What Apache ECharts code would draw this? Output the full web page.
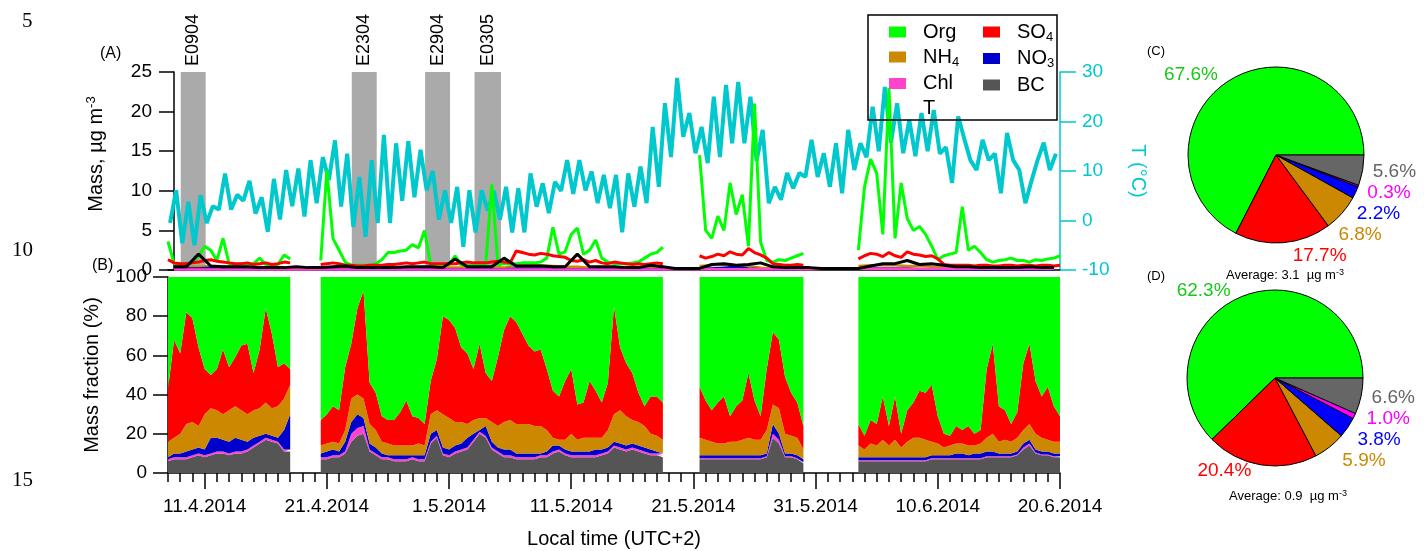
<!DOCTYPE html>
<html>
<head>
<meta charset="utf-8">
<script src="https://cdn.jsdelivr.net/npm/echarts@6/dist/echarts.min.js"></script>
<style>
  html, body { margin: 0; padding: 0; background: #fff; }
  #chart { width: 1424px; height: 551px; }
</style>
</head>
<body>
<div id="chart"></div>
<script>
const _ = null;

// x axis: time range and labelled dates
const startDate = '2014-04-08T00:00Z';
const endDate = '2014-06-20T00:00Z';
const tickDates = ['2014-04-11', '2014-04-21', '2014-05-01', '2014-05-11', '2014-05-21', '2014-05-31', '2014-06-10', '2014-06-20'];
const tickLabels = ['11.4.2014', '21.4.2014', '1.5.2014', '11.5.2014', '21.5.2014', '31.5.2014', '10.6.2014', '20.6.2014'];

// event periods (grey bands)
const eventNames = ['E0904', 'E2304', 'E2904', 'E0305'];
const eventStart = ['2014-04-09T01:00Z', '2014-04-23T01:00Z', '2014-04-29T01:00Z', '2014-05-03T02:00Z'];
const eventEnd = ['2014-04-11T02:00Z', '2014-04-25T02:00Z', '2014-05-01T02:00Z', '2014-05-05T06:00Z'];

// (A) 12-hourly mass concentrations, µg m-3, from 8.4.2014 00:00
const orgMass = [
  3.6, 0.8, 0.8, 0.8, 1.0, 1.7, 3.0, 2.5, 1.2, 4.0, 0.8, 0.7, 0.8, 0.7, 0.8, 1.5, 0.7, 0.7, 0.7, 1.9, 1.4,
  _, _, _, _,
  1.2, 12.6, 4.0, 2.5, 1.0, 0.6, 0.6, 0.6, 0.6, 0.8,
  1.3, 2.2, 2.2, 2.4, 2.5, 3.2, 2.8, 5.0, 0.6, 0.6,
  0.6, 0.7, 1.8, 0.6, 0.6, 0.6, 0.6, 0.6, 10.8, 0.7,
  0.8, 0.8, 0.8, 0.9, 0.9, 0.9, 1.0, 1.5, 5.4, 2.0,
  2.3, 4.5, 5.3, 2.0, 2.5, 3.8, 1.5, 1.0, 0.8, 0.8,
  0.8, 0.9, 1.0, 1.5, 2.0, 2.2, 2.9,
  _, _, _, _, _,
  14.5, 5.0, 4.0, 6.8, 5.0, 11.0, 7.0, 9.5, 3.0, 21.0, 3.5, 1.2, 1.0, 1.3, 1.2, 1.5, 1.8, 2.1,
  _, _, _, _, _, _, _, _,
  2.5, 10.5, 14.0, 12.2, 4.5, 23.0, 4.0, 11.0, 6.5, 5.0,
  5.5, 4.5, 3.0, 1.3, 1.8, 2.0, 2.2, 8.0, 2.5, 3.0,
  2.2, 1.3, 1.0, 1.2, 1.3, 1.5, 1.2, 1.2, 1.0, 1.3,
  1.2, 1.4, 1.5, 1.8
];
const so4Mass = [
  1.3, 0.9, 0.8, 0.8, 0.9, 1.0, 1.2, 1.3, 1.1, 1.0, 0.9, 0.8, 0.8, 0.9, 0.7, 0.8, 0.9, 0.7, 0.8, 1.0, 0.9,
  _, _, _, _,
  0.7, 0.8, 0.9, 0.8, 0.6, 0.6, 0.5, 0.5, 0.6, 0.6,
  0.6, 0.7, 0.7, 0.8, 0.9, 0.8, 0.9, 1.0, 0.8, 0.8,
  0.8, 0.8, 0.8, 0.9, 1.0, 0.9, 0.9, 0.9, 1.0, 1.1,
  1.0, 0.9, 2.4, 2.2, 2.0, 1.9, 2.1, 2.0, 1.8, 1.7,
  1.6, 1.2, 1.1, 1.3, 1.0, 1.2, 0.9, 0.8, 1.0, 0.9,
  0.8, 0.7, 0.8, 0.7, 0.8, 0.9, 0.8,
  _, _, _, _, _,
  1.8, 1.5, 1.7, 2.0, 1.8, 2.3, 2.0, 1.9, 2.7, 2.2, 1.9, 1.5, 0.8, 0.7, 0.6, 0.6, 0.7, 0.6,
  _, _, _, _, _, _, _, _,
  1.4, 1.8, 2.1, 2.0, 1.7, 2.2, 1.8, 1.6, 2.3, 2.0,
  1.9, 1.7, 1.8, 1.4, 0.7, 0.6, 0.6, 0.6, 0.6, 0.5,
  0.6, 0.6, 0.5, 0.5, 0.6, 0.6, 0.5, 0.6, 0.6, 0.5,
  0.6, 0.6, 0.5, 0.6
];

// (A) daily (noon) mass concentrations, µg m-3
const nh4Mass = [
  0.5, 0.4, 0.4, 0.5, 0.4, 0.4, 0.3, 0.3, 0.3, 0.3,
  _, _, 0.3, 0.3, 0.3, 0.2, 0.2, 0.2, 0.3, 0.3,
  0.3, 0.3, 0.3, 0.3, 0.3, 0.3, 0.3, 0.3, 0.6, 0.6,
  0.6, 0.5, 0.4, 0.4, 0.3, 0.3, 0.3, 0.3, 0.3, 0.3,
  0.3, _, _, 0.5, 0.6, 0.7, 0.6, 0.5, 0.3, 0.2,
  0.2, 0.2, _, _, _, _, 0.5, 0.6, 0.6, 0.6,
  0.5, 0.5, 0.4, 0.3, 0.2, 0.2, 0.2, 0.2, 0.2, 0.2,
  0.2, 0.2, 0.2
];
const no3Mass = [
  0.2, 0.2, 0.2, 0.3, 0.2, 0.3, 0.2, 0.2, 0.3, 0.2,
  _, _, 0.1, 0.1, 0.1, 0.1, 0.1, 0.1, 0.1, 0.1,
  0.1, 0.1, 0.1, 0.1, 0.1, 0.1, 0.1, 0.1, 0.2, 0.2,
  0.2, 0.1, 0.1, 0.1, 0.1, 0.1, 0.1, 0.1, 0.1, 0.1,
  0.1, _, _, 0.2, 0.2, 0.3, 0.4, 0.2, 0.1, 0.1,
  0.1, 0.1, _, _, _, _, 0.2, 0.2, 0.2, 0.2,
  0.2, 0.1, 0.1, 0.1, 0.1, 0.1, 0.1, 0.1, 0.1, 0.1,
  0.1, 0.1, 0.1
];
const chlMass = [
  0.05, 0.05, 0.05, 0.05, 0.05, 0.05, 0.05, 0.05, 0.05, 0.05,
  0.05, 0.05, 0.05, 0.05, 0.05, 0.05, 0.05, 0.05, 0.05, 0.05,
  0.05, 0.05, 0.05, 0.05, 0.05, 0.05, 0.05, 0.05, 0.05, 0.05,
  0.05, 0.05, 0.05, 0.05, 0.05, 0.05, 0.05, 0.05, 0.05, 0.05,
  0.05, 0.1, 0.1, 0.1, 0.1, 0.1, 0.1, 0.1, 0.1, 0.1,
  0.1, 0.1, 0.1, 0.15, 0.15, 0.15, 0.15, 0.15, 0.15, 0.15,
  0.15, 0.15, 0.15, 0.15, 0.15, 0.15, 0.15, 0.15, 0.15, 0.15,
  0.15, 0.15, 0.15
];
const bcMass = [
  0.4, 0.4, 2.0, 0.5, 0.4, 0.4, 0.4, 0.3, 0.3, 0.3,
  0.4, 0.3, 0.3, 0.4, 0.5, 0.3, 0.3, 0.3, 0.3, 0.4,
  0.4, 0.4, 0.3, 1.4, 0.4, 0.4, 0.4, 1.5, 0.5, 0.5,
  0.5, 0.4, 0.4, 2.0, 0.4, 0.4, 0.4, 0.3, 0.3, 0.6,
  0.4, 0.2, 0.2, 0.2, 0.7, 0.8, 0.6, 0.7, 0.9, 0.4,
  0.3, 0.3, 0.3, 0.2, 0.2, 0.2, 0.2, 0.5, 0.8, 0.8,
  1.2, 0.7, 0.8, 0.6, 0.4, 0.4, 0.3, 0.3, 0.3, 0.3,
  0.4, 0.3, 0.3
];

// (A) temperature, °C: early-morning and afternoon reading of each day
const temperature = [
  -0.5, 6.1, -4.6, 3.8, -5.0, 5.1, -0.5, 2.9, 2.2, 9.5, 2.2, 5.2, 4.0, 8.0, 1.4, 4.7, -2.3, 8.4, 0.2, 10.2,
  2.9, 10.5, 0.8, 12.2, 3.5, 12.8, 8.2, 16.2, 2.8, 13.5, -1.3, 8.8, -3.3, 12.2, -0.5, 17.3, -0.5, 15.6, 4.0, 16.0,
  4.7, 14.3, 6.1, 10.0, 0.2, 6.1, -0.5, 6.8, -5.3, 6.1, -2.4, 6.1, 2.0, 6.0, 0.2, 6.8, -2.4, 6.5, -2.4, 9.5,
  2.8, 7.5, 1.5, 7.8, 6.0, 12.2, 5.4, 12.2, 6.1, 9.9, 3.5, 9.2, 2.5, 9.2, -2.4, 9.5, 2.8, 10.9, 3.5, 18.9,
  6.8, 23.7, 12.8, 28.8, 16.9, 21.7, 13.6, 18.9, 11.6, 25.0, 12.8, 27.4, 15.6, 28.0, 15.6, 25.0, 12.0, 18.3, 3.5, 6.8,
  4.2, 9.6, 6.5, 9.6, 8.8, 16.3, 8.8, 13.6, 6.8, 15.6, 5.5, 18.3, 10.2, 15.6, 12.8, 23.0, 14.0, 27.0, 15.7, 23.7,
  13.6, 20.3, 13.0, 21.7, 14.0, 22.3, 13.5, 14.8, 7.6, 21.0, 16.5, 12.2, 10.2, 16.3, 12.2, 13.5, 5.5, 17.7, 12.2, 10.2,
  3.5, 8.0, 12.2, 15.7, 10.2, 13.5
];

// (B) 12-hourly mass fractions, %
const fracBC = [
  6, 7, 7, 7, 8, 9, 8, 9, 10, 10, 9, 10, 10, 11, 13, 15, 17, 16, 15, 11, 11,
  _, _, _, _,
  7, 7, 8, 8, 10, 16, 19, 20, 11, 9,
  7, 7, 6, 6, 6, 7, 6, 6, 15, 18,
  9, 8, 10, 11, 12, 16, 20, 18, 12, 10,
  8, 8, 7, 7, 7, 7, 8, 8, 10, 11,
  9, 8, 8, 8, 8, 8, 9, 10, 13, 12,
  11, 12, 11, 10, 9, 9, 8,
  _, _, _, _, _,
  7, 7, 7, 7, 7, 7, 7, 7, 7, 7, 7, 8, 18, 15, 8, 8, 7, 5,
  _, _, _, _, _, _, _, _,
  6, 6, 6, 6, 6, 6, 6, 6, 6, 6, 6, 6,
  7, 7, 7, 7, 7, 7, 7, 7, 7,
  8, 8, 8, 8, 8, 9, 12, 14, 10, 9, 9, 8, 8
];
const fracChl = [
  1, 1, 1, 1, 1, 1, 1, 1, 1, 1, 1, 1, 1, 1, 1, 1, 1, 1, 1, 1, 1,
  _, _, _, _,
  1, 1, 1, 1, 1, 4, 4, 4, 1, 1,
  1, 1, 1, 1, 1, 1, 1, 1, 1, 1,
  1, 1, 1, 1, 1, 1, 1, 1, 1, 1,
  1, 1, 1, 1, 1, 1, 1, 1, 1, 1,
  1, 1, 1, 1, 1, 1, 1, 1, 1, 1,
  1, 1, 1, 1, 1, 1, 1,
  _, _, _, _, _,
  .5, .5, .5, .5, .5, .5, .5, .5, .5, .5, .5, .5, 2, 2, .5, .5, .5, .5,
  _, _, _, _, _, _, _, _,
  .5, .5, .5, .5, .5, .5, .5, .5, .5, .5,
  .5, .5, .5, .5, .5, .5, .5, .5, .5, .5,
  .5, .5, .5, .5, .5, .5, .5, 1, 1, .5,
  .5, .5, .5, .5
];
const fracNO3 = [
  1, 2, 2, 3, 3, 3, 3, 8, 7, 6, 6, 7, 6, 4, 4, 3, 2, 2, 2, 10, 18,
  _, _, _, _,
  2, 3, 3, 2, 5, 6, 7, 4, 3, 3,
  2, 1, 2, 2, 2, 1, 2, 2, 4, 3,
  3, 3, 3, 3, 5, 3, 1, 5, 3, 2,
  3, 3, 2, 2, 2, 2, 1, 2, 3, 2,
  2, 2, 2, 2, 2, 3, 2, 2, 2, 2,
  2, 2, 2, 2, 2, 1, 1,
  _, _, _, _, _,
  1.5, 1.5, 1.5, 1.5, 1.5, 1.5, 1.5, 1.5, 1.5, 1.5, 1.5, 1.5, 5, 3, 1.5, 1.5, 1.5, 1.5,
  _, _, _, _, _, _, _, _,
  1.5, 1.5, 1.5, 1.5, 1.5, 1.5, 1.5, 1.5, 1.5, 1.5,
  1.5, 1.5, 1.5, 1.5, 1.5, 1.5, 2.5, 2.5, 1.5, 2.5,
  2.5, 2.5, 2.5, 1.5, 1.5, 1.5, 1.5, 2, 2, 1.5,
  1.5, 1.5, 1.5, 1.5
];
const fracNH4 = [
  8, 8, 10, 14, 14, 11, 18, 15, 14, 13, 16, 16, 15, 14, 14, 14, 16, 14, 16, 16, 15,
  _, _, _, _,
  4, 4, 4, 4, 6, 12, 10, 10, 10, 9,
  6, 6, 5, 5, 5, 5, 6, 5, 10, 10,
  17, 16, 12, 11, 7, 7, 6, 4, 10, 11,
  14, 15, 15, 15, 15, 14, 14, 11, 4, 3,
  5, 9, 6, 7, 7, 6, 6, 9, 14, 17,
  15, 12, 12, 11, 8, 8, 7,
  _, _, _, _, _,
  9, 8, 7, 6, 6, 7, 7, 8, 9, 8, 8, 12, 10, 13, 10, 9, 9, 5,
  _, _, _, _, _, _, _, _,
  6, 4, 7, 6, 9, 6, 9, 5, 8, 10,
  10, 9, 7, 6, 4, 5, 5, 5, 5, 4,
  5, 7, 9, 6, 7, 6, 7, 7, 8, 8,
  7, 6, 6, 6
];
const fracSO4 = [
  27, 50, 41, 57, 53, 40, 23, 17, 21, 33, 22, 25, 33, 36, 19, 30, 48, 38, 20, 18, 8,
  _, _, _, _,
  13, 15, 18, 17, 32, 28, 44, 55, 21, 19,
  13, 12, 13, 17, 23, 15, 13, 11, 17, 26,
  50, 50, 48, 38, 36, 26, 38, 23, 21, 35,
  47, 53, 52, 46, 40, 38, 39, 31, 24, 22,
  30, 33, 18, 18, 29, 24, 18, 24, 55, 32,
  27, 24, 15, 10, 19, 20, 19,
  _, _, _, _, _,
  26, 20, 16, 21, 24, 13, 18, 20, 33, 20, 12, 31, 37, 35, 29, 22, 18, 12,
  _, _, _, _, _, _, _, _,
  11, 7, 12, 11, 22, 10, 22, 7, 16, 18,
  24, 24, 29, 14, 7, 5, 9, 7, 10, 6,
  7, 35, 46, 18, 15, 9, 13, 34, 41, 27,
  21, 27, 18, 13
];
const fracOrg = [
  57, 32, 39, 18, 21, 36, 47, 50, 47, 37, 46, 41, 35, 34, 49, 37, 16, 29, 46, 44, 47,
  _, _, _, _,
  73, 70, 66, 68, 46, 34, 16, 7, 54, 59,
  71, 73, 73, 69, 63, 71, 72, 75, 53, 42,
  20, 22, 26, 36, 39, 47, 34, 49, 53, 41,
  27, 20, 23, 29, 35, 38, 37, 47, 58, 61,
  53, 47, 65, 64, 53, 58, 64, 54, 15, 36,
  44, 49, 59, 66, 61, 61, 64,
  _, _, _, _, _,
  56, 63, 68, 64, 61, 71, 66, 63, 49, 63, 71, 47, 28, 32, 51, 59, 64, 76,
  _, _, _, _, _, _, _, _,
  75, 81, 73, 75, 61, 76, 61, 80, 68, 64,
  58, 59, 55, 71, 80, 81, 76, 78, 76, 80,
  78, 47, 34, 66, 68, 75, 69, 44, 34, 53,
  61, 56, 66, 71
];

// (C) and (D) average composition, %
const pieNames = ['Org', 'SO4', 'NH4', 'NO3', 'Chl', 'BC'];
const pieC = [67.6, 17.7, 6.8, 2.2, 0.3, 5.6];
const pieD = [62.3, 20.4, 5.9, 3.8, 1.0, 6.6];
const averageC = 3.1;
const averageD = 0.9;

// ---------------------------------------------------------------
const colors = { Org: '#00ff00', SO4: '#ff0000', NH4: '#cc8800', NO3: '#0000cc', Chl: '#ff44cc', BC: '#555555' };
const pieColors = ['#00ff00', '#ff0000', '#cc8800', '#0000ff', '#ff00ff', '#666666'];
const pieLabelColors = ['#18c818', '#ff0000', '#cc8800', '#0000ff', '#ff00ff', '#666666'];
const tColor = '#00c8cc';
const FONT = 'Liberation Sans';
const HOUR = 3600 * 1000;
const t0 = Date.parse(startDate);
const t1 = Date.parse(endDate);

const halfDayTimes = orgMass.map((v, i) => t0 + i * 12 * HOUR);
const dailyTimes = bcMass.map((v, i) => t0 + (i * 24 + 12) * HOUR);
const tempTimes = temperature.map((v, i) => t0 + (4 + i * 12) * HOUR);
const tickTimes = tickDates.map(d => Date.parse(d + 'T00:00Z'));
const dayTicks = [];
for (let t = t0; t <= t1; t += 24 * HOUR) dayTicks.push(t);

function pairs(times, vals) {
  return vals.map((v, i) => [times[i], v]);
}

const subNames = { SO4: 'SO{sub|4}', NH4: 'NH{sub|4}', NO3: 'NO{sub|3}' };
const legendText = {
  fontSize: 20, color: '#000', fontFamily: FONT, padding: [0, 0, 0, 12],
  rich: { sub: { fontSize: 13, fontFamily: FONT, verticalAlign: 'bottom', padding: [10, 0, 0, 0] } }
};
function legendItem(name) {
  if (name === 'T') return { name: 'T', itemStyle: { color: 'rgba(0,0,0,0)', borderWidth: 0 } };
  return { name: name, itemStyle: { color: colors[name] } };
}

function massLine(name, times, vals, color, width) {
  return {
    name: name, type: 'line', xAxisIndex: 0, yAxisIndex: 0,
    data: pairs(times, vals), showSymbol: false, connectNulls: false,
    lineStyle: { color: color, width: width }, itemStyle: { color: color },
    silent: true
  };
}
function fracArea(name, vals) {
  return {
    name: name, type: 'line', xAxisIndex: 1, yAxisIndex: 2, stack: 'frac',
    data: pairs(halfDayTimes, vals), showSymbol: false, connectNulls: false,
    lineStyle: { width: 0 }, areaStyle: { color: colors[name], opacity: 1 },
    itemStyle: { color: colors[name] }, silent: true
  };
}
function pieSeries(center, vals) {
  return {
    type: 'pie', center: center, radius: 88, startAngle: 0, clockwise: false,
    silent: true,
    itemStyle: { borderColor: '#000', borderWidth: 1 },
    label: { show: true, position: 'outside', fontSize: 19, fontFamily: FONT, overflow: 'none',
      formatter: p => p.value.toFixed(1) + '%' },
    labelLine: { show: false, length: 6, length2: 4 },
    data: vals.map((v, i) => ({
      name: pieNames[i], value: v,
      itemStyle: { color: pieColors[i] },
      label: { color: pieLabelColors[i] }
    }))
  };
}

const tickStyle = { color: '#000', width: 1.5 };
const hiddenAxis = { axisLine: { show: false }, axisTick: { show: false }, axisLabel: { show: false }, splitLine: { show: false } };
const chart = echarts.init(document.getElementById('chart'));
chart.setOption({
  animation: false,
  textStyle: { fontFamily: FONT },
  grid: [
    { left: 168, top: 72, width: 892, height: 198 },
    { left: 168, top: 277, width: 892, height: 196 }
  ],
  xAxis: [
    // time axes that carry the series
    { gridIndex: 0, type: 'time', min: t0, max: t1, position: 'top',
      axisLine: { lineStyle: tickStyle }, axisTick: { show: false },
      axisLabel: { show: false }, splitLine: { show: false } },
    Object.assign({ gridIndex: 1, type: 'time', min: t0, max: t1, position: 'bottom' }, hiddenAxis),
    // date labels and long ticks
    { gridIndex: 1, type: 'value', min: t0, max: t1, position: 'bottom',
      axisLine: { lineStyle: tickStyle },
      axisTick: { customValues: tickTimes, length: 16, lineStyle: tickStyle },
      axisLabel: { customValues: tickTimes, fontSize: 19, color: '#000', margin: 24,
        formatter: v => tickLabels[tickTimes.indexOf(v)] || '' },
      splitLine: { show: false },
      name: 'Local time (UTC+2)', nameLocation: 'middle', nameGap: 56,
      nameTextStyle: { fontSize: 20, color: '#000' } },
    // daily short ticks
    { gridIndex: 1, type: 'value', min: t0, max: t1, position: 'bottom',
      axisLine: { show: false },
      axisTick: { customValues: dayTicks, length: 9, lineStyle: tickStyle },
      axisLabel: { show: false }, splitLine: { show: false } }
  ],
  yAxis: [
    { gridIndex: 0, type: 'value', min: 0, max: 25, interval: 5, offset: -6,
      axisLine: { show: true, lineStyle: tickStyle },
      axisTick: { show: true, length: 15, lineStyle: tickStyle },
      axisLabel: { fontSize: 19, color: '#000', margin: 22 },
      splitLine: { show: false },
      name: 'Mass, µg m{sup|-3}', nameLocation: 'middle', nameGap: 66, nameRotate: 90,
      nameTextStyle: { fontSize: 20, color: '#000', padding: [0, 0, 0, 34],
        rich: { sup: { fontSize: 13, fontFamily: FONT, verticalAlign: 'top', padding: [0, 0, 10, 0] } } } },
    { gridIndex: 0, type: 'value', position: 'right', min: -10, max: 30, interval: 10,
      axisLine: { show: true, lineStyle: { color: tColor, width: 1.5 } },
      axisTick: { show: true, length: 16, lineStyle: { color: tColor, width: 1.5 } },
      axisLabel: { fontSize: 19, color: tColor, margin: 22 },
      splitLine: { show: false },
      name: 'T (°C)', nameLocation: 'middle', nameGap: 68, nameRotate: -90,
      nameTextStyle: { fontSize: 20, color: tColor } },
    { gridIndex: 1, type: 'value', min: 0, max: 100, interval: 20,
      axisLine: { show: true, lineStyle: tickStyle },
      axisTick: { show: true, length: 15, lineStyle: tickStyle },
      axisLabel: { fontSize: 19, color: '#000', margin: 21 },
      splitLine: { show: false },
      name: 'Mass fraction (%)', nameLocation: 'middle', nameGap: 66, nameRotate: 90,
      nameTextStyle: { fontSize: 20, color: '#000' } }
  ],
  legend: [
    { left: 884, top: 17, orient: 'vertical', icon: 'rect', itemWidth: 17, itemHeight: 11, itemGap: 5,
      selectedMode: false, textStyle: legendText, formatter: n => subNames[n] || n,
      data: ['Org', 'NH4', 'Chl', 'T'].map(legendItem) },
    { left: 978, top: 17, orient: 'vertical', icon: 'rect', itemWidth: 17, itemHeight: 11, itemGap: 5,
      selectedMode: false, textStyle: legendText, formatter: n => subNames[n] || n,
      data: ['SO4', 'NO3', 'BC'].map(legendItem) }
  ],
  series: [
    { name: 'T', type: 'line', xAxisIndex: 0, yAxisIndex: 1,
      data: pairs(tempTimes, temperature), showSymbol: false,
      lineStyle: { color: tColor, width: 4 }, itemStyle: { color: tColor }, silent: true,
      markArea: {
        silent: true,
        itemStyle: { color: '#aaaaaa' },
        label: { show: true, position: 'top', rotate: 90, align: 'left', verticalAlign: 'middle',
          distance: 6, fontSize: 18, color: '#000', fontFamily: FONT },
        data: eventNames.map((n, i) => [
          { name: n, xAxis: Date.parse(eventStart[i]) },
          { xAxis: Date.parse(eventEnd[i]) }
        ])
      } },
    massLine('Org', halfDayTimes, orgMass, colors.Org, 3),
    massLine('NH4', dailyTimes, nh4Mass, colors.NH4, 2.5),
    massLine('SO4', halfDayTimes, so4Mass, colors.SO4, 3),
    massLine('NO3', dailyTimes, no3Mass, colors.NO3, 2.5),
    massLine('Chl', dailyTimes, chlMass, colors.Chl, 2.5),
    massLine('BC', dailyTimes, bcMass, '#000000', 3),
    fracArea('BC', fracBC),
    fracArea('Chl', fracChl),
    fracArea('NO3', fracNO3),
    fracArea('NH4', fracNH4),
    fracArea('SO4', fracSO4),
    fracArea('Org', fracOrg),
    pieSeries([1276, 155], pieC),
    pieSeries([1275, 378], pieD)
  ],
  graphic: [
    { type: 'rect', shape: { x: 868, y: 15, width: 189, height: 105 }, z: 100,
      style: { fill: 'none', stroke: '#000', lineWidth: 1.5 } },
    { type: 'text', left: 22, top: 11, style: { text: '5', font: '21px "Liberation Serif"', fill: '#000' } },
    { type: 'text', left: 12, top: 240, style: { text: '10', font: '21px "Liberation Serif"', fill: '#000' } },
    { type: 'text', left: 12, top: 470, style: { text: '15', font: '21px "Liberation Serif"', fill: '#000' } },
    { type: 'text', left: 100, top: 46, style: { text: '(A)', font: '16px "Liberation Sans"', fill: '#000' } },
    { type: 'text', left: 92, top: 258, style: { text: '(B)', font: '16px "Liberation Sans"', fill: '#000' } },
    { type: 'text', left: 1147, top: 45, style: { text: '(C)', font: '13px "Liberation Sans"', fill: '#000' } },
    { type: 'text', left: 1147, top: 270, style: { text: '(D)', font: '13px "Liberation Sans"', fill: '#000' } },
    { type: 'text', x: 1285, y: 268, style: { text: 'Average: ' + averageC + '  µg m{sup|-3}', align: 'center',
        font: '13px "Liberation Sans"', fill: '#000', rich: { sup: { fontSize: 9, verticalAlign: 'top', padding: [0, 0, 6, 0] } } } },
    { type: 'text', x: 1288, y: 489, style: { text: 'Average: ' + averageD + '  µg m{sup|-3}', align: 'center',
        font: '13px "Liberation Sans"', fill: '#000', rich: { sup: { fontSize: 9, verticalAlign: 'top', padding: [0, 0, 6, 0] } } } }
  ]
});
</script>
</body>
</html>
